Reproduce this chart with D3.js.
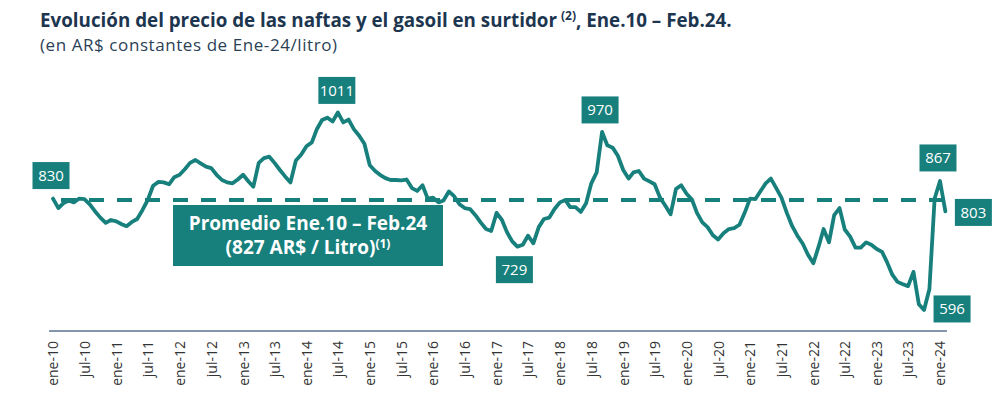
<!DOCTYPE html>
<html><head><meta charset="utf-8">
<script src="https://cdn.jsdelivr.net/npm/d3@7"></script>
<style>
html,body{margin:0;padding:0;background:#fff;}
svg{display:block;}
</style>
</head><body>
<svg id="chart" width="1000" height="395"></svg>
<script>
// ---------- DATA ----------
const startMonth = "2010-01"; // first observation (ene-10), monthly through feb-24
const prices = [
 830,810,820,826,822,830,829,818,803,790,779,785,
 782,776,772,781,787,806,827,857,865,864,860,875,
 880,892,905,911,904,897,894,880,869,864,862,870,
 880,866,855,905,915,918,905,890,876,864,910,922,
 940,948,975,995,1000,992,1011,990,996,976,962,945,
 900,888,880,873,869,869,868,870,852,846,858,830,
 832,822,826,845,835,818,810,808,795,780,766,762,
 800,785,760,740,729,733,752,736,770,787,790,808,
 822,827,812,812,802,820,862,885,970,942,937,920,
 890,872,885,888,872,866,860,832,815,797,850,858,
 840,828,800,780,770,753,744,757,766,768,775,800,
 830,829,845,862,872,852,832,800,772,752,735,712,
 694,730,766,738,795,810,765,750,727,727,738,733,
 724,718,697,670,655,650,646,676,608,596,640,830,
 867,803
];
const average = 827;
const tickLabels = ["ene-10","jul-10","ene-11","jul-11","ene-12","jul-12","ene-13","jul-13","ene-14","jul-14","ene-15","jul-15","ene-16","jul-16","ene-17","jul-17","ene-18","jul-18","ene-19","jul-19","ene-20","jul-20","ene-21","jul-21","ene-22","jul-22","ene-23","jul-23","ene-24"];
const calloutValues = [830, 1011, 970, 729, 867, 803, 596];
const calloutIndex  = [0, 54, 104, 88, 168, 169, 165];
const title = "Evolución del precio de las naftas y el gasoil en surtidor";
const titleSup = "(2)";
const titleEnd = ", Ene.10 – Feb.24.";
const subtitle = "(en AR$ constantes de Ene-24/litro)";
const avgLine1 = "Promedio Ene.10 – Feb.24";
const avgLine2 = "(827 AR$ / Litro)";
const avgSup = "(1)";

// ---------- SETUP ----------
const teal = "#17807c";
const svg = d3.select("#chart");
const parse = d3.utcParse("%Y-%m");
const t0 = parse(startMonth);
const dates = prices.map((_, i) => d3.utcMonth.offset(t0, i));
const data = prices.map((v, i) => ({date: dates[i], value: v}));

const x = d3.scaleUtc().domain([t0, d3.utcMonth.offset(t0, 168)]).range([53, 940]);
const y = d3.scaleLinear().domain([500, 1100]).range([355.65, 70.05]);

// Title
const tt = svg.append("text").attr("x", 40).attr("y", 27)
  .attr("font-family", "'Open Sans', sans-serif").attr("font-weight", 700)
  .attr("font-size", 18.8).attr("fill", "#1d3650");
tt.append("tspan").text(title);
tt.append("tspan").attr("font-size", 12).attr("dy", -7).attr("dx", 4).text(titleSup);
tt.append("tspan").attr("dy", 7).text(titleEnd);

svg.append("text").attr("x", 40).attr("y", 51)
  .attr("font-family", "'Open Sans', sans-serif")
  .attr("font-size", 17).attr("fill", "#2b3f56")
  .attr("textLength", 297).attr("lengthAdjust", "spacing").text(subtitle);

// Axis
const tickDates = tickLabels.map((_, i) => d3.utcMonth.offset(t0, i * 6));
const xAxis = d3.axisBottom(x).tickValues(tickDates)
  .tickFormat((d, i) => tickLabels[i]).tickSize(0).tickPadding(0);
const gx = svg.append("g").attr("transform", "translate(0,331)").call(xAxis);
gx.select(".domain").attr("d", "M49,0H947").attr("stroke", "#5a7590").attr("stroke-width", 1.6);
gx.selectAll(".tick text")
  .attr("font-family", "'Open Sans', sans-serif").attr("font-size", 14)
  .attr("fill", "#333").attr("text-anchor", "end")
  .attr("transform", "translate(0,10) rotate(-90)")
  .attr("dx", 0).attr("dy", "0.35em").attr("y", 0).attr("x", 0);

// Average dashed line
svg.append("line")
  .attr("x1", x(dates[0]) + 8).attr("x2", x(dates[dates.length - 1]))
  .attr("y1", y(average)).attr("y2", y(average))
  .attr("stroke", teal).attr("stroke-width", 4).attr("stroke-dasharray", "15,13");

// Average box
const bx = 173, bw = 270, by = y(average) + 5, bh = 61;
svg.append("rect").attr("x", bx).attr("y", by).attr("width", bw).attr("height", bh).attr("fill", teal);
svg.append("text").attr("x", bx + bw / 2).attr("y", by + 25).attr("text-anchor", "middle")
  .attr("font-family", "'Open Sans', sans-serif").attr("font-weight", 700).attr("font-size", 19)
  .attr("fill", "#fff").text(avgLine1);
const t2 = svg.append("text").attr("x", bx + bw / 2).attr("y", by + 49).attr("text-anchor", "middle")
  .attr("font-family", "'Open Sans', sans-serif").attr("font-weight", 700).attr("font-size", 19)
  .attr("fill", "#fff");
t2.append("tspan").text(avgLine2);
t2.append("tspan").attr("font-size", 12).attr("dy", -6).text(avgSup);

// Price line
const line = d3.line().x(d => x(d.date)).y(d => y(d.value)).curve(d3.curveLinear);
svg.append("path").datum(data).attr("d", line)
  .attr("fill", "none").attr("stroke", teal).attr("stroke-width", 3.8)
  .attr("stroke-linejoin", "round").attr("stroke-linecap", "round");

// Callouts
const offsets = [[-2,-23],[-1,-22],[-2,-22],[-3,23],[-2,-23],[28,1],[28,-1]];
calloutValues.forEach((v, k) => {
  const i = calloutIndex[k];
  const cx = x(dates[i]) + offsets[k][0], cy = y(prices[i]) + offsets[k][1];
  const w = 37, h = 27;
  svg.append("rect").attr("x", cx - w / 2).attr("y", cy - h / 2).attr("width", w).attr("height", h).attr("fill", teal);
  svg.append("text").attr("x", cx).attr("y", cy).attr("dy", "0.36em").attr("text-anchor", "middle")
    .attr("font-family", "'Open Sans', sans-serif").attr("font-size", 15).attr("fill", "#fff").text(v);
});
</script>
</body></html>
